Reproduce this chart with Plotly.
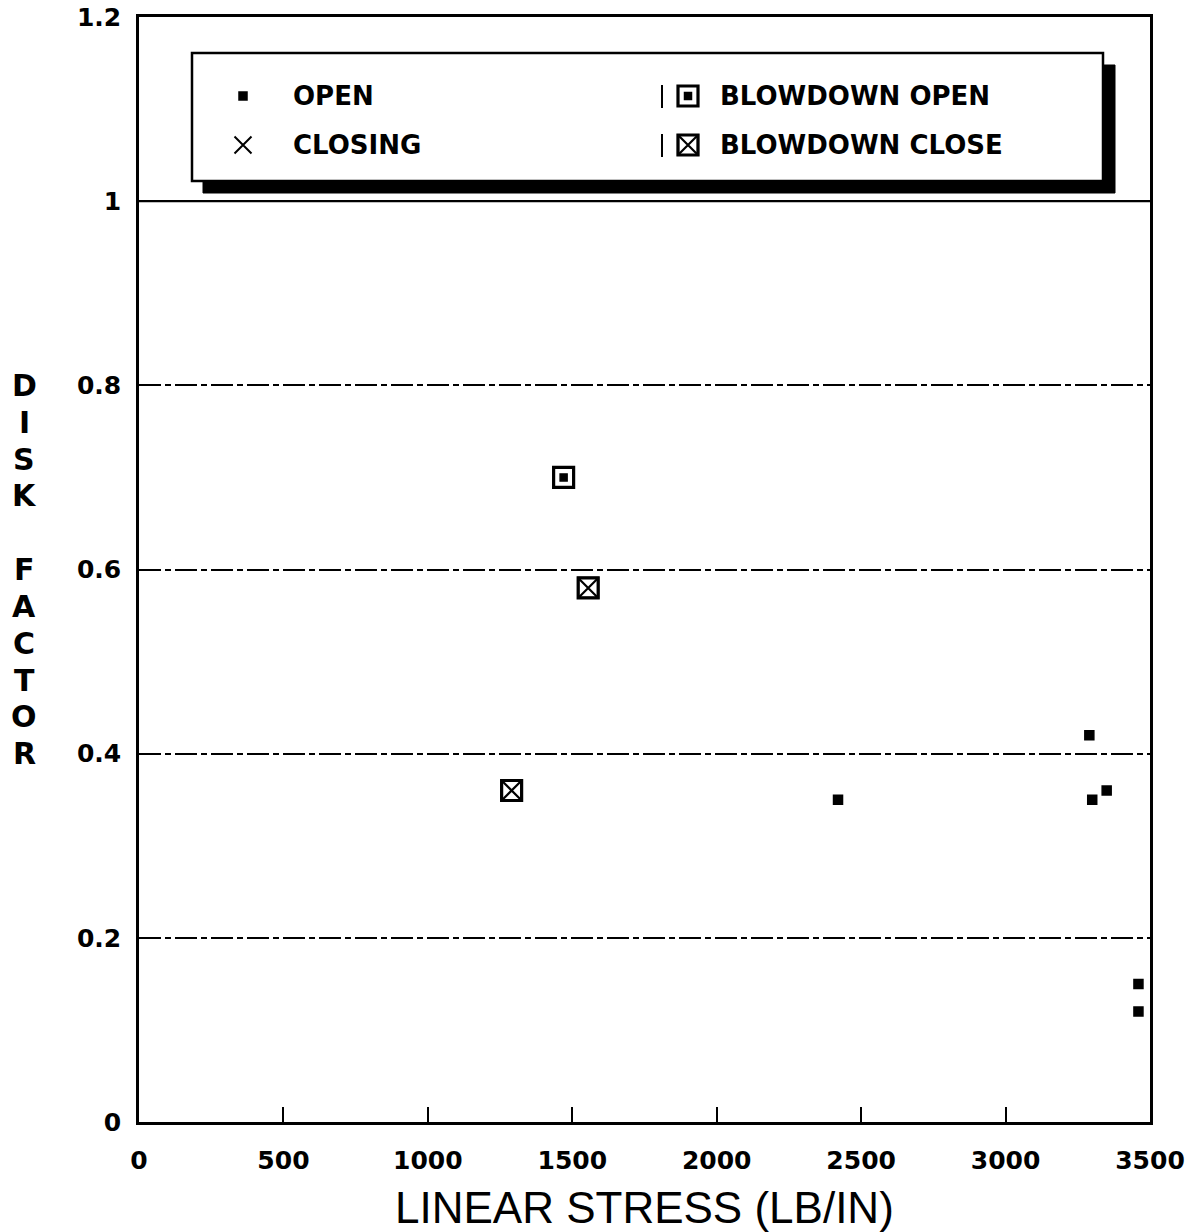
import plotly.graph_objects as go

# Measured points: linear stress (lb/in) vs disk factor
open_x = [2420, 3290, 3300, 3350, 3460, 3460]
open_y = [0.35, 0.42, 0.35, 0.36, 0.15, 0.12]

closing_x = []
closing_y = []

bd_open_x = [1470]
bd_open_y = [0.70]

bd_close_x = [1555, 1290]
bd_close_y = [0.58, 0.36]

x_ticks = [0, 500, 1000, 1500, 2000, 2500, 3000, 3500]
y_ticks = [0, 0.2, 0.4, 0.6, 0.8, 1.0, 1.2]

legend_labels = ["OPEN", "CLOSING", "BLOWDOWN OPEN", "BLOWDOWN CLOSE"]
y_title_letters = ["D", "I", "S", "K", "", "F", "A", "C", "T", "O", "R"]

W, H = 1197, 1232
L, R, T, B = 139, 47, 17, 110
PX0, PX1 = L, W - R          # plot area in pixels (for the overlay axes)
PY0, PY1 = T, H - B

TICK_FONT = dict(family="DejaVu Sans", size=25, color="black", weight="bold")
LEG_FONT = dict(family="DejaVu Sans", size=26, color="black", weight="bold")

fig = go.Figure()

# data series
fig.add_trace(go.Scatter(
    x=open_x, y=open_y, mode="markers", name="OPEN", showlegend=False,
    marker=dict(symbol="square", size=9, color="black",
                line=dict(color="black", width=1.5))))
fig.add_trace(go.Scatter(
    x=closing_x, y=closing_y, mode="markers", name="CLOSING", showlegend=False,
    marker=dict(symbol="x-thin-open", size=17, color="black",
                line=dict(color="black", width=2))))
fig.add_trace(go.Scatter(
    x=bd_open_x, y=bd_open_y, mode="markers", name="BLOWDOWN OPEN", showlegend=False,
    marker=dict(symbol="square-open", size=20, color="black",
                line=dict(color="black", width=3.2))))
fig.add_trace(go.Scatter(
    x=bd_open_x, y=bd_open_y, mode="markers", showlegend=False, hoverinfo="skip",
    marker=dict(symbol="square", size=7, color="black",
                line=dict(color="black", width=1.5))))
fig.add_trace(go.Scatter(
    x=bd_close_x, y=bd_close_y, mode="markers", name="BLOWDOWN CLOSE", showlegend=False,
    marker=dict(symbol="square-x-open", size=20, color="black",
                line=dict(color="black", width=2.2))))
fig.add_trace(go.Scatter(
    x=bd_close_x, y=bd_close_y, mode="markers", showlegend=False, hoverinfo="skip",
    marker=dict(symbol="square-open", size=20, color="black",
                line=dict(color="black", width=3.2))))

# legend glyphs on a pixel-space overlay axis
leg_row1, leg_row2 = 96, 145
leg_sym_left, leg_sym_right = 243, 688
leg_txt_left, leg_txt_right = 291, 718

fig.add_trace(go.Scatter(
    x=[leg_sym_left], y=[leg_row1], xaxis="x2", yaxis="y2", mode="markers",
    showlegend=False, hoverinfo="skip",
    marker=dict(symbol="square", size=8, color="black", line=dict(color="black", width=1.5))))
fig.add_trace(go.Scatter(
    x=[leg_sym_left], y=[leg_row2], xaxis="x2", yaxis="y2", mode="markers",
    showlegend=False, hoverinfo="skip",
    marker=dict(symbol="x-thin-open", size=17, color="black", line=dict(color="black", width=2))))
fig.add_trace(go.Scatter(
    x=[leg_sym_right], y=[leg_row1], xaxis="x2", yaxis="y2", mode="markers",
    showlegend=False, hoverinfo="skip",
    marker=dict(symbol="square-open", size=20, color="black", line=dict(color="black", width=3.2))))
fig.add_trace(go.Scatter(
    x=[leg_sym_right], y=[leg_row1], xaxis="x2", yaxis="y2", mode="markers",
    showlegend=False, hoverinfo="skip",
    marker=dict(symbol="square", size=7, color="black", line=dict(color="black", width=1.5))))
fig.add_trace(go.Scatter(
    x=[leg_sym_right], y=[leg_row2], xaxis="x2", yaxis="y2", mode="markers",
    showlegend=False, hoverinfo="skip",
    marker=dict(symbol="square-x-open", size=20, color="black", line=dict(color="black", width=2.2))))
fig.add_trace(go.Scatter(
    x=[leg_sym_right], y=[leg_row2], xaxis="x2", yaxis="y2", mode="markers",
    showlegend=False, hoverinfo="skip",
    marker=dict(symbol="square-open", size=20, color="black", line=dict(color="black", width=3.2))))

shapes = [
    # solid line at disk factor 1
    dict(type="line", xref="x", yref="y", x0=0, x1=3500, y0=1.0, y1=1.0,
         line=dict(color="black", width=2.2), layer="above"),
    # legend drop shadow and box
    dict(type="rect", xref="x2", yref="y2", x0=203, x1=1115, y0=65, y1=193,
         fillcolor="black", line=dict(color="black", width=1), layer="below"),
    dict(type="rect", xref="x2", yref="y2", x0=192, x1=1103, y0=53, y1=181,
         fillcolor="white", line=dict(color="black", width=2.5), layer="below"),
    # small brackets before the blowdown glyphs
    dict(type="line", xref="x2", yref="y2", x0=662, x1=662, y0=85, y1=108,
         line=dict(color="black", width=2), layer="below"),
    dict(type="line", xref="x2", yref="y2", x0=662, x1=662, y0=134, y1=157,
         line=dict(color="black", width=2), layer="below"),
]

annotations = []
for (lbl, xx, yy) in [(legend_labels[0], leg_txt_left, leg_row1),
                      (legend_labels[1], leg_txt_left, leg_row2),
                      (legend_labels[2], leg_txt_right, leg_row1),
                      (legend_labels[3], leg_txt_right, leg_row2)]:
    annotations.append(dict(text=lbl, x=xx, y=yy, xref="x2", yref="y2",
                            xanchor="left", yanchor="middle", showarrow=False,
                            font=LEG_FONT))

# stacked y-axis title, one letter per line
for i, ch in enumerate(y_title_letters):
    if not ch:
        continue
    annotations.append(dict(text=ch, x=(24 - L) / (PX1 - PX0), y=0.8 - 0.04 * i,
                            xref="paper", yref="y", xanchor="center", yanchor="middle",
                            showarrow=False,
                            font=dict(family="DejaVu Sans", size=30, color="black",
                                      weight="bold")))

# x-axis title
annotations.append(dict(text="LINEAR STRESS (LB/IN)", x=0.5, y=(PY1 - 1207) / (PY1 - PY0),
                        xref="paper", yref="paper", xanchor="center", yanchor="middle",
                        showarrow=False,
                        font=dict(family="Liberation Sans", size=44, color="black")))

fig.update_layout(
    width=W, height=H,
    margin=dict(l=L, r=R, t=T, b=B, pad=0, autoexpand=False),
    paper_bgcolor="white", plot_bgcolor="white",
    showlegend=False,
    shapes=shapes, annotations=annotations,
    xaxis=dict(range=[0, 3500], tickvals=x_ticks, ticktext=[str(v) for v in x_ticks],
               ticks="inside", ticklen=15, tickwidth=2, tickcolor="black",
               showline=True, linecolor="black", linewidth=2.5, mirror=True,
               showgrid=False, zeroline=False, tickfont=TICK_FONT,
               ticklabelstandoff=14, fixedrange=True, automargin=False),
    yaxis=dict(range=[0, 1.2], tickvals=y_ticks,
               ticktext=["0", "0.2", "0.4", "0.6", "0.8", "1", "1.2"],
               ticks="", showline=True, linecolor="black", linewidth=2.5, mirror=True,
               showgrid=True, gridcolor="black", gridwidth=1.6,
               griddash="22px,4px,6px,4px", zeroline=False, tickfont=TICK_FONT,
               ticklabelstandoff=10, fixedrange=True, automargin=False),
    xaxis2=dict(overlaying="x", range=[PX0, PX1], visible=False, fixedrange=True),
    yaxis2=dict(overlaying="y", range=[PY1, PY0], visible=False, fixedrange=True),
)

fig.write_html("out.html")
